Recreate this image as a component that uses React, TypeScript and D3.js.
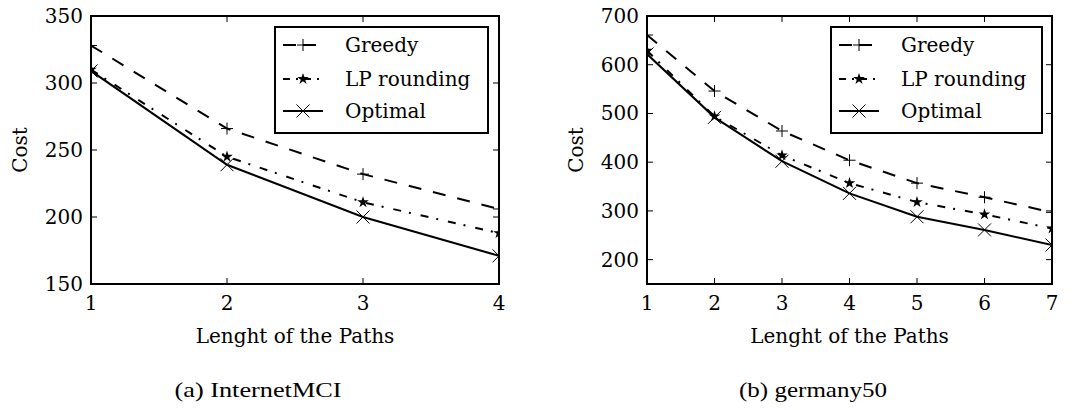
import React from "react";
import * as d3 from "d3";

// InternetMCI panel
const mciLengths = [1, 2, 3, 4];
const mciGreedy = [328, 266, 232, 206];
const mciLP = [310, 245, 211, 188];
const mciOptimal = [309, 239, 200, 171];
const mciYTicks = [150, 200, 250, 300, 350];

// germany50 panel
const gerLengths = [1, 2, 3, 4, 5, 6, 7];
const gerGreedy = [661, 546, 464, 404, 357, 328, 297];
const gerLP = [629, 494, 414, 357, 318, 293, 264];
const gerOptimal = [622, 492, 402, 336, 288, 261, 230];
const gerYTicks = [200, 300, 400, 500, 600, 700];

const seriesNames = ["Greedy", "LP rounding", "Optimal"];
const dashes = ["13,12", "8,8,2,10", null];
const markers = ["plus", "star", "cross"];

const FONT = "'DejaVu Serif', serif";

const Marker = ({ kind, x, y }: { kind: string; x: number; y: number }) => {
  if (kind === "plus") {
    return (
      <path d={`M${x - 6},${y}H${x + 6}M${x},${y - 6}V${y + 6}`} stroke="#000" strokeWidth={1} fill="none" />
    );
  }
  if (kind === "cross") {
    return (
      <path
        d={`M${x - 6.5},${y - 6.5}L${x + 6.5},${y + 6.5}M${x - 6.5},${y + 6.5}L${x + 6.5},${y - 6.5}`}
        stroke="#000"
        strokeWidth={1}
        fill="none"
      />
    );
  }
  const star = d3.symbol().type(d3.symbolStar).size(42)();
  return <path d={star as string} transform={`translate(${x},${y})`} fill="#000" />;
};

interface PanelProps {
  id: string;
  left: number;
  right: number;
  xs: number[];
  series: number[][];
  yDomain: [number, number];
  yTicks: number[];
  legendX: number;
  legendW: number;
  costX: number;
  caption: string;
  captionX: number;
  captionW: number;
}

const Panel = (p: PanelProps) => {
  const top = 16;
  const bottom = 284;
  const x = d3.scaleLinear().domain([p.xs[0], p.xs[p.xs.length - 1]]).range([p.left, p.right]);
  const y = d3.scaleLinear().domain(p.yDomain).range([bottom, top]);
  const line = d3
    .line<number>()
    .x((_, i) => x(p.xs[i]))
    .y((d) => y(d));
  const clipId = `clip-${p.id}`;
  const tick = 6;
  const legendTop = 27;
  const rows = [45, 79, 111];

  return (
    <g>
      <defs>
        <clipPath id={clipId}>
          <rect x={p.left} y={top} width={p.right - p.left} height={bottom - top} />
        </clipPath>
      </defs>

      {/* ticks on all four sides, pointing inward */}
      {p.xs.map((v) => (
        <g key={`xt${v}`}>
          <line x1={x(v)} x2={x(v)} y1={bottom} y2={bottom - tick} stroke="#000" />
          <line x1={x(v)} x2={x(v)} y1={top} y2={top + tick} stroke="#000" />
          <text x={x(v)} y={310} textAnchor="middle" fontFamily={FONT} fontSize={20}>
            {v}
          </text>
        </g>
      ))}
      {p.yTicks.map((v) => (
        <g key={`yt${v}`}>
          <line x1={p.left} x2={p.left + tick} y1={y(v)} y2={y(v)} stroke="#000" />
          <line x1={p.right} x2={p.right - tick} y1={y(v)} y2={y(v)} stroke="#000" />
          <text x={p.left - 8} y={y(v) + 7} textAnchor="end" fontFamily={FONT} fontSize={20}>
            {v}
          </text>
        </g>
      ))}

      <g clipPath={`url(#${clipId})`}>
        {p.series.map((s, i) => (
          <g key={`s${i}`}>
            <path
              d={line(s) as string}
              fill="none"
              stroke="#000"
              strokeWidth={2}
              strokeDasharray={dashes[i] ?? undefined}
            />
            {s.map((v, j) => (
              <Marker key={j} kind={markers[i]} x={x(p.xs[j])} y={y(v)} />
            ))}
          </g>
        ))}
      </g>

      <rect x={p.left} y={top} width={p.right - p.left} height={bottom - top} fill="none" stroke="#000" strokeWidth={2} />

      {/* legend */}
      <rect x={p.legendX} y={legendTop} width={p.legendW} height={106} fill="#fff" stroke="#000" strokeWidth={2} />
      {seriesNames.map((name, i) => {
        const lx = p.legendX + 8;
        return (
          <g key={name}>
            <line
              x1={lx}
              x2={lx + 40}
              y1={rows[i]}
              y2={rows[i]}
              stroke="#000"
              strokeWidth={2}
              strokeDasharray={i === 0 ? "13,7" : i === 1 ? "7,6,2,6" : undefined}
            />
            <Marker kind={markers[i]} x={lx + 20} y={rows[i]} />
            <text x={p.legendX + 70} y={rows[i] + 7} fontFamily={FONT} fontSize={20}>
              {name}
            </text>
          </g>
        );
      })}

      <text
        transform={`translate(${p.costX},${(top + bottom) / 2}) rotate(-90)`}
        textAnchor="middle"
        fontFamily={FONT}
        fontSize={20}
      >
        Cost
      </text>
      <text x={(p.left + p.right) / 2} y={343} textAnchor="middle" fontFamily={FONT} fontSize={20}>
        Lenght of the Paths
      </text>
      <text
        x={p.captionX}
        y={397}
        textAnchor="middle"
        fontFamily="'Liberation Serif', serif"
        fontSize={21}
        textLength={p.captionW}
        lengthAdjust="spacingAndGlyphs"
      >
        {p.caption}
      </text>
    </g>
  );
};

export default function App() {
  return (
    <svg width={1084} height={410} style={{ position: "absolute", left: 0, top: 0, background: "#fff" }}>
      <Panel
        id="mci"
        left={91}
        right={499}
        xs={mciLengths}
        series={[mciGreedy, mciLP, mciOptimal]}
        yDomain={[150, 350]}
        yTicks={mciYTicks}
        legendX={275}
        legendW={213}
        costX={27}
        caption="(a) InternetMCI"
        captionX={258}
        captionW={167}
      />
      <Panel
        id="ger"
        left={647}
        right={1052}
        xs={gerLengths}
        series={[gerGreedy, gerLP, gerOptimal]}
        yDomain={[150, 700]}
        yTicks={gerYTicks}
        legendX={831}
        legendW={211}
        costX={583}
        caption="(b) germany50"
        captionX={813}
        captionW={148}
      />
    </svg>
  );
}
